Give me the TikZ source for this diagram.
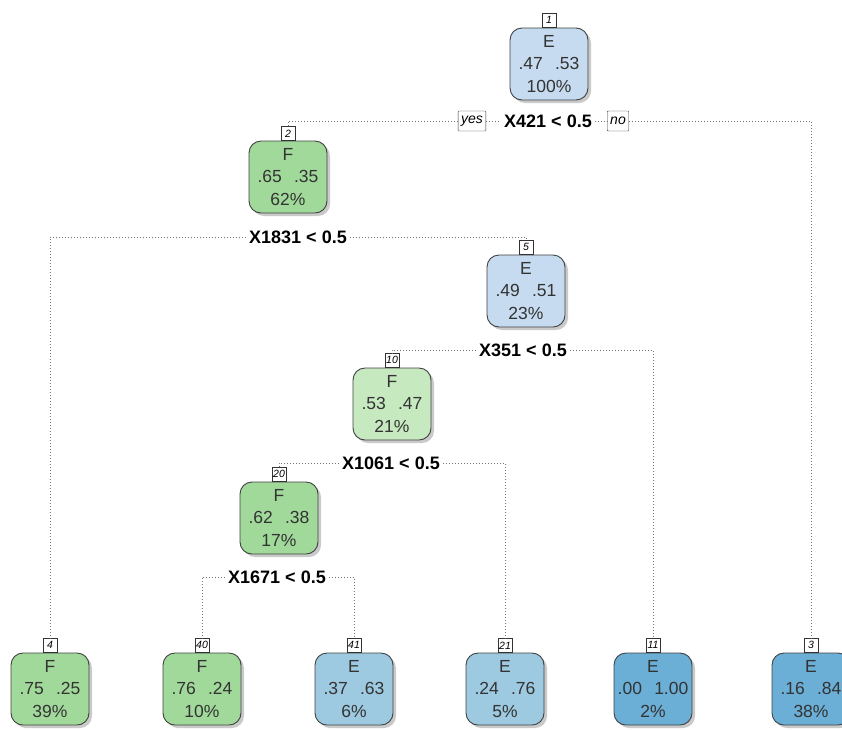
\documentclass[tikz,border=0pt]{standalone}
\usepackage{fontspec}
\setmainfont{Liberation Sans}
\usepackage{tikz}
\usetikzlibrary{shadows}

\definecolor{greenA}{HTML}{A1D99B}
\definecolor{greenB}{HTML}{C7E9C0}
\definecolor{blueA}{HTML}{C6DBEF}
\definecolor{blueB}{HTML}{9ECAE1}
\definecolor{blueC}{HTML}{6BAED6}

\tikzset{
    leaf/.style={draw=black!75, line width=0.9pt, rounded corners=12pt,
        minimum width=78pt, minimum height=72pt, align=center, text=black!80,
        font=\fontsize{17.5}{22.5}\selectfont, inner sep=1pt,
        drop shadow={shadow xshift=3pt, shadow yshift=-3pt, fill=black!35, opacity=0.6}},
    tag/.style={draw=black!80, fill=white, inner sep=1pt, minimum width=14pt,
        minimum height=14pt, font=\fontsize{10.5}{11}\selectfont\itshape, anchor=south},
    split/.style={font=\fontsize{18}{20}\selectfont\bfseries, inner sep=3pt},
    yesno/.style={draw=black!80, fill=white, rounded corners=1pt, inner sep=3pt,
        minimum height=20pt, font=\fontsize{14}{16}\selectfont\itshape},
    link/.style={dotted, draw=black!55, line width=1pt}
}

\begin{document}
\begin{tikzpicture}[x=1pt, y=-1pt]
        \useasboundingbox (0,0) rectangle (842,729);

        % Nodes
        \node[leaf, fill=blueA] (b1) at (549,64) {E\\.47\hspace{0.7em}.53\\100\%};
        \node[leaf, fill=greenA] (b2) at (288,177) {F\\.65\hspace{0.7em}.35\\62\%};
        \node[leaf, fill=blueA] (b5) at (526,291) {E\\.49\hspace{0.7em}.51\\23\%};
        \node[leaf, fill=greenB] (b10) at (392,404) {F\\.53\hspace{0.7em}.47\\21\%};
        \node[leaf, fill=greenA] (b20) at (279,518) {F\\.62\hspace{0.7em}.38\\17\%};
        \node[leaf, fill=greenA] (b4) at (50,689) {F\\.75\hspace{0.7em}.25\\39\%};
        \node[leaf, fill=greenA] (b40) at (202,689) {F\\.76\hspace{0.7em}.24\\10\%};
        \node[leaf, fill=blueB] (b41) at (354,689) {E\\.37\hspace{0.7em}.63\\6\%};
        \node[leaf, fill=blueB] (b21) at (505,689) {E\\.24\hspace{0.7em}.76\\5\%};
        \node[leaf, fill=blueC] (b11) at (653,689) {E\\.00\hspace{0.7em}1.00\\2\%};
        \node[leaf, fill=blueC] (b3) at (811,689) {E\\.16\hspace{0.7em}.84\\38\%};

        % Node numbers
        \foreach \n in {1,2,5,10,20,4,40,41,21,11,3}
            \node[tag] (t\n) at (b\n.north) {\n};

        % Splits
        \node[split] (s1) at (548,121) {X421 < 0.5};
        \node[yesno] (yes) at (472,121) {yes};
        \node[yesno] (no) at (618,121) {no};
        \node[split] (s2) at (298,237) {X1831 < 0.5};
        \node[split] (s5) at (523,350) {X351 < 0.5};
        \node[split] (s10) at (391,463) {X1061 < 0.5};
        \node[split] (s20) at (277,577) {X1671 < 0.5};

        % Dotted edges
        \draw[link] (yes.west) -| (t2.north);
        \draw[link] (yes.east) -- (s1.west);
        \draw[link] (s1.east) -- (no.west);
        \draw[link] (no.east) -| (t3.north);
        \draw[link] (s2.west) -| (t4.north);
        \draw[link] (s2.east) -| (t5.north);
        \draw[link] (s5.west) -| (t10.north);
        \draw[link] (s5.east) -| (t11.north);
        \draw[link] (s10.west) -| (t20.north);
        \draw[link] (s10.east) -| (t21.north);
        \draw[link] (s20.west) -| (t40.north);
        \draw[link] (s20.east) -| (t41.north);
    \end{tikzpicture}
\end{document}
